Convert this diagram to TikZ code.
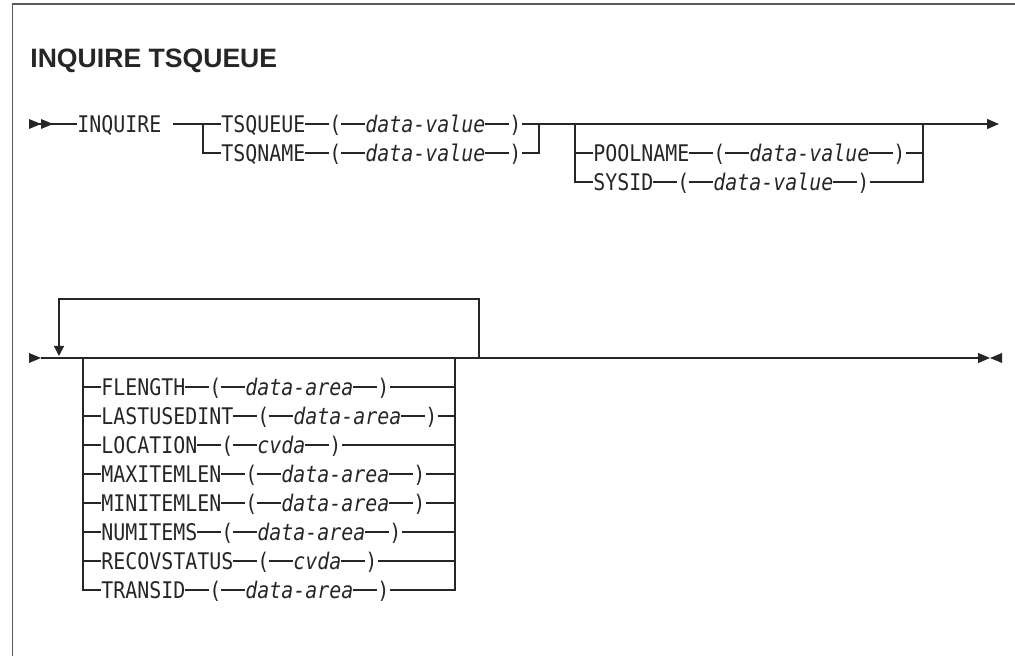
\documentclass[tikz,border=0pt]{standalone}
\usepackage{fontspec}
\usepackage{tikz}
\usetikzlibrary{arrows.meta,positioning,calc}
\usepackage{xcolor}
\definecolor{ink}{HTML}{262626}
\definecolor{rimgray}{HTML}{5A5A5A}
\newfontfamily\kwfont[FakeStretch=0.8704,ItalicFont={DejaVu Sans Mono Oblique}]{DejaVu Sans Mono}
\newfontfamily\headfont{Liberation Sans}
\newlength\cell
\setlength\cell{6pt}
\newcommand{\rl}[1]{\rule[3.87pt]{#1\cell}{0.6pt}}
\newcommand{\termr}[2]{\fill[ink] (#1,#2-5) -- ++(12,5) -- ++(-12,5) -- cycle;}
\newcommand{\terml}[2]{\fill[ink] (#1,#2-5) -- ++(-12,5) -- ++(12,5) -- cycle;}

\begin{document}
\begin{tikzpicture}[
  x=0.5pt, y=-0.5pt,
  every node/.style={inner sep=0pt},
  kw/.style={font=\kwfont\fontsize{11.45pt}{13pt}\selectfont, text=ink,
             text height=8.35pt, text depth=0pt, anchor=west},
  head/.style={font=\headfont\bfseries\fontsize{13.3pt}{16pt}\selectfont,
               text=ink, anchor=base west},
  rail/.style={draw=ink, line width=0.6pt},
  rail end/.style={rail, -{Triangle[length=6pt,width=5pt]}},
  rail loop/.style={rail, -{Triangle[length=5pt,width=5pt]}},
  box/.style={draw=rimgray, line width=0.75pt}
]
\useasboundingbox (0,0) rectangle (1015,656);
\draw[box] (1015,4) -| (12.5,656);

\node[head] (title) at (30,68) {INQUIRE TSQUEUE};

% --- row 1: INQUIRE, queue name, pool or sysid
\coordinate (s1) at (29,124);
\node[kw] (inq) at (77,124) {INQUIRE};
\coordinate (g1) at (173,124);
\coordinate (b1) at (203,124);
\node[kw] (tsqueue) at (221,124) {TSQUEUE\rl2(\rl2\textit{data-value}\rl2)};
\node[kw] (tsqname) at (221,153) {TSQNAME\rl2(\rl2\textit{data-value}\rl2)};
\coordinate (j1) at (539,124);
\coordinate (p1) at (575,124);
\coordinate (p2) at (923,124);
\node[kw] (poolname) at (593,153) {POOLNAME\rl2(\rl2\textit{data-value}\rl2)};
\node[kw] (sysid)    at (593,182) {SYSID\rl2(\rl2\textit{data-value}\rl2)};
\coordinate (e1) at (999,124);

\termr{29}{124} \termr{41}{124}
\draw[rail] (s1) -- (inq.west);
\draw[rail] (g1) -- (b1) -- (tsqueue.west);
\draw[rail] (b1) |- (tsqname.west);
\draw[rail] (tsqueue.east) -- (j1);
\draw[rail] (tsqname.east) -| (j1);
\draw[rail end] (j1) -- (e1);
\draw[rail] (p1) |- (sysid.west);
\draw[rail] (p1 |- poolname.west) -- (poolname.west);
\draw[rail] (sysid.east) -| (p2);
\draw[rail] (poolname.east) -- (p2 |- poolname.east);

% --- row 2: repeatable options
\coordinate (s2) at (41,358);
\coordinate (lptop) at (59,299);
\coordinate (lpend) at (59,356);
\coordinate (q1) at (83,358);
\coordinate (q2) at (455,358);
\coordinate (lpR) at (479,358);
\coordinate (e2) at (990,358);
\node[kw] (flength) at (101,387) {FLENGTH\rl2(\rl2\textit{data-area}\rl2)};
\node[kw] (lastused) at (101,416) {LASTUSEDINT\rl2(\rl2\textit{data-area}\rl2)};
\node[kw] (location) at (101,445) {LOCATION\rl2(\rl2\textit{cvda}\rl2)};
\node[kw] (maxlen) at (101,474) {MAXITEMLEN\rl2(\rl2\textit{data-area}\rl2)};
\node[kw] (minlen) at (101,503) {MINITEMLEN\rl2(\rl2\textit{data-area}\rl2)};
\node[kw] (numitems) at (101,532) {NUMITEMS\rl2(\rl2\textit{data-area}\rl2)};
\node[kw] (recov) at (101,561) {RECOVSTATUS\rl2(\rl2\textit{cvda}\rl2)};
\node[kw] (transid) at (101,590) {TRANSID\rl2(\rl2\textit{data-area}\rl2)};

\termr{29}{358}
\draw[rail end] (s2) -- (e2);
\terml{1002}{358}
\draw[rail loop] (lpR) |- (lptop) -- (lpend);
\draw[rail] (q1) |- (transid.west);
\draw[rail] (transid.east) -| (q2);
\draw[rail] (q1 |- flength.west) -- (flength.west) (flength.east) -- (q2 |- flength.east);
\draw[rail] (q1 |- lastused.west) -- (lastused.west) (lastused.east) -- (q2 |- lastused.east);
\draw[rail] (q1 |- location.west) -- (location.west) (location.east) -- (q2 |- location.east);
\draw[rail] (q1 |- maxlen.west) -- (maxlen.west) (maxlen.east) -- (q2 |- maxlen.east);
\draw[rail] (q1 |- minlen.west) -- (minlen.west) (minlen.east) -- (q2 |- minlen.east);
\draw[rail] (q1 |- numitems.west) -- (numitems.west) (numitems.east) -- (q2 |- numitems.east);
\draw[rail] (q1 |- recov.west) -- (recov.west) (recov.east) -- (q2 |- recov.east);
\end{tikzpicture}
\end{document}
